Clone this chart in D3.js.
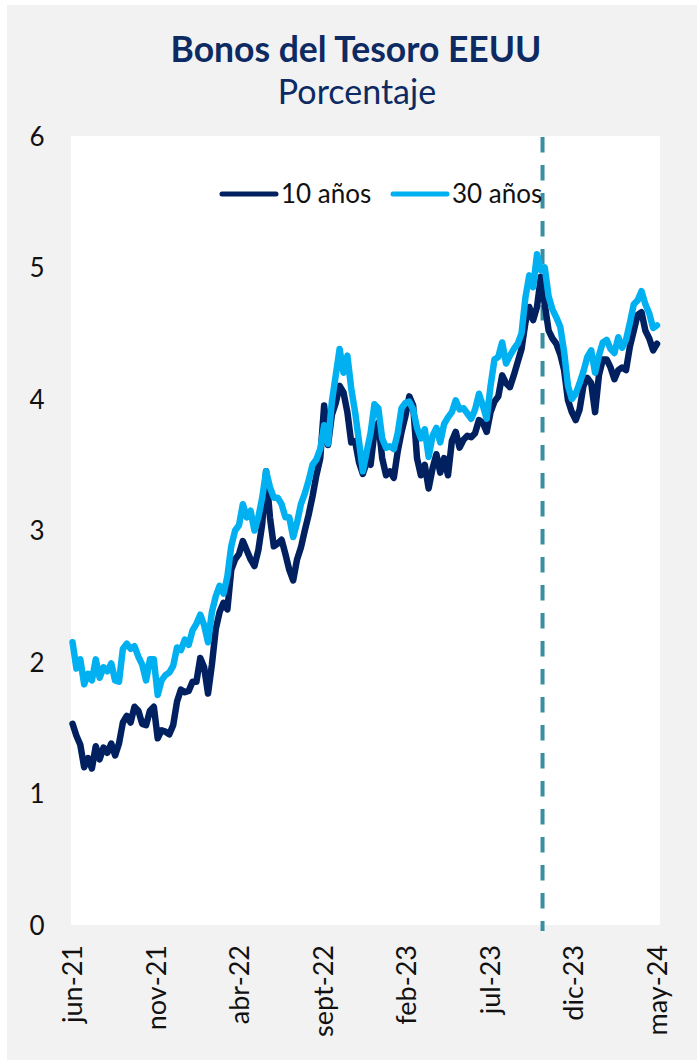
<!DOCTYPE html>
<html>
<head>
<meta charset="utf-8">
<script src="https://cdn.jsdelivr.net/npm/d3@7"></script>
<style>
  html, body { margin: 0; padding: 0; background: #ffffff; }
  svg { display: block; }
  text { font-family: Lato, "Open Sans", sans-serif; }
</style>
</head>
<body>
<svg id="chart" width="697" height="1060"></svg>
<script>
// ---------------- DATA ----------------
const title = "Bonos del Tesoro EEUU";
const subtitle = "Porcentaje";

const seriesNames = ["10 años", "30 años"];

const dates = [
  "2021-06-25","2021-07-02","2021-07-09","2021-07-16","2021-07-23","2021-07-30","2021-08-06","2021-08-13","2021-08-20","2021-08-27",
  "2021-09-03","2021-09-10","2021-09-17","2021-09-24","2021-10-01","2021-10-08","2021-10-15","2021-10-22","2021-10-29","2021-11-05",
  "2021-11-12","2021-11-19","2021-11-26","2021-12-03","2021-12-10","2021-12-17","2021-12-24","2021-12-31",
  "2022-01-07","2022-01-14","2022-01-21","2022-01-28","2022-02-04","2022-02-11","2022-02-18","2022-02-25","2022-03-04","2022-03-11",
  "2022-03-18","2022-03-25","2022-04-01","2022-04-08","2022-04-15","2022-04-22","2022-04-29","2022-05-06","2022-05-13","2022-05-20",
  "2022-05-27","2022-06-03","2022-06-10","2022-06-17","2022-06-24","2022-07-01","2022-07-08","2022-07-15","2022-07-22","2022-07-29",
  "2022-08-05","2022-08-12","2022-08-19","2022-08-26","2022-09-02","2022-09-09","2022-09-16","2022-09-23","2022-09-30","2022-10-07",
  "2022-10-14","2022-10-21","2022-10-28","2022-11-04","2022-11-11","2022-11-18","2022-11-25","2022-12-02","2022-12-09","2022-12-16",
  "2022-12-23","2022-12-30",
  "2023-01-06","2023-01-13","2023-01-20","2023-01-27","2023-02-03","2023-02-10","2023-02-17","2023-02-24","2023-03-03","2023-03-10",
  "2023-03-17","2023-03-24","2023-03-31","2023-04-07","2023-04-14","2023-04-21","2023-04-28","2023-05-05","2023-05-12","2023-05-19",
  "2023-05-26","2023-06-02","2023-06-09","2023-06-16","2023-06-23","2023-06-30","2023-07-07","2023-07-14","2023-07-21","2023-07-28",
  "2023-08-04","2023-08-11","2023-08-18","2023-08-25","2023-09-01","2023-09-08","2023-09-15","2023-09-22","2023-09-29","2023-10-06",
  "2023-10-13","2023-10-20","2023-10-27","2023-11-03","2023-11-10","2023-11-17","2023-11-24","2023-12-01","2023-12-08","2023-12-15",
  "2023-12-22","2023-12-29",
  "2024-01-05","2024-01-12","2024-01-19","2024-01-26","2024-02-02","2024-02-09","2024-02-16","2024-02-23","2024-03-01","2024-03-08",
  "2024-03-15","2024-03-22","2024-03-29","2024-04-05","2024-04-12","2024-04-19","2024-04-26","2024-05-03","2024-05-10","2024-05-17"
];

const yield10 = [
  1.53,1.44,1.37,1.20,1.27,1.19,1.36,1.26,1.35,1.31,
  1.38,1.29,1.38,1.54,1.59,1.54,1.66,1.63,1.53,1.52,
  1.63,1.66,1.42,1.48,1.47,1.45,1.52,1.70,1.79,1.77,
  1.78,1.85,1.85,2.03,1.96,1.76,1.98,2.25,
  2.38,2.45,2.40,2.70,2.78,2.82,2.92,2.85,2.78,2.73,
  2.85,3.05,3.45,3.10,2.88,2.90,2.93,2.82,2.70,2.62,
  2.78,2.87,3.00,3.12,3.26,3.42,3.55,3.95,3.65,3.88,
  3.97,4.10,4.05,3.90,3.67,3.68,3.52,3.43,3.52,3.50,
  3.75,3.82,3.55,3.42,3.45,3.40,3.60,3.75,3.87,4.02,
  3.95,3.55,3.42,3.50,3.32,3.47,3.58,3.44,3.55,3.42,
  3.68,3.75,3.63,3.69,3.72,3.71,3.74,3.84,3.82,3.75,
  3.90,3.98,4.02,4.18,4.12,4.09,4.18,4.28,4.38,4.58,
  4.70,4.60,4.70,4.93,4.72,4.52,4.46,4.42,4.34,4.22,
  3.99,3.90,3.84,3.92,4.10,4.16,4.12,3.90,4.18,4.30,
  4.30,4.24,4.15,4.22,4.24,4.22,4.40,4.52,4.64,4.66,
  4.52,4.46,4.37,4.42
];

const yield30 = [
  2.15,1.95,2.02,1.83,1.91,1.86,2.02,1.88,1.96,1.93,
  1.99,1.86,1.85,2.10,2.14,2.10,2.12,2.04,1.98,1.86,
  2.02,2.02,1.75,1.86,1.90,1.92,1.97,2.11,2.09,2.17,
  2.13,2.24,2.29,2.36,2.28,2.15,2.38,2.50,
  2.58,2.52,2.65,2.88,3.00,3.04,3.20,3.10,3.15,3.00,
  3.10,3.25,3.45,3.33,3.25,3.25,3.20,3.10,3.10,2.95,
  3.06,3.20,3.28,3.38,3.50,3.54,3.62,3.80,3.66,3.98,
  4.18,4.38,4.20,4.33,4.08,3.90,3.68,3.45,3.60,3.74,
  3.96,3.93,3.70,3.63,3.64,3.62,3.74,3.93,3.97,3.98,
  3.92,3.78,3.70,3.77,3.56,3.72,3.78,3.67,3.81,3.86,
  3.90,3.99,3.92,3.93,3.89,3.85,3.92,4.04,3.95,3.85,
  4.10,4.30,4.32,4.43,4.27,4.33,4.38,4.42,4.50,4.77,
  4.94,4.85,5.10,4.98,5.00,4.78,4.68,4.62,4.55,4.36,
  4.10,4.00,4.04,4.12,4.21,4.32,4.37,4.20,4.33,4.43,
  4.45,4.38,4.35,4.47,4.39,4.45,4.58,4.72,4.75,4.82,
  4.72,4.65,4.54,4.56
];

const xDomain = ["2021-06-24", "2024-05-17"];
const xTickDates = ["2021-06-24","2021-11-22","2022-04-22","2022-09-20","2023-02-18","2023-07-19","2023-12-17","2024-05-17"];
const xTickLabels = ["jun-21","nov-21","abr-22","sept-22","feb-23","jul-23","dic-23","may-24"];
const yTicks = [0, 1, 2, 3, 4, 5, 6];
const markerDate = "2023-10-23";

// ---------------- STYLE ----------------
const W = 697, H = 1060;
const plot = { left: 71, right: 660, top: 136, bottom: 925 };
const colors = { s10: "#002060", s30: "#00B0F0", marker: "#3A8EA2", title: "#0D2A63", panel: "#F2F2F2", text: "#111111" };

// ---------------- DRAW ----------------
const parse = d3.timeParse("%Y-%m-%d");
const svg = d3.select("#chart");

svg.append("rect").attr("x", 7).attr("y", 5).attr("width", W - 7).attr("height", H - 5).attr("fill", colors.panel);
svg.append("rect").attr("x", plot.left).attr("y", plot.top)
  .attr("width", plot.right - plot.left).attr("height", plot.bottom - plot.top).attr("fill", "#ffffff");

// Titles
svg.append("text").attr("x", 356).attr("y", 62).attr("text-anchor", "middle")
  .attr("font-size", 35.5).attr("font-weight", 700).attr("fill", colors.title).text(title);
svg.append("text").attr("x", 357).attr("y", 104).attr("text-anchor", "middle")
  .attr("font-size", 34).attr("fill", colors.title).text(subtitle);

const x = d3.scaleTime().domain(xDomain.map(parse)).range([72, 657]);
const y = d3.scaleLinear().domain([0, 6]).range([plot.bottom, plot.top]);

// Y axis
const yAxis = svg.append("g").attr("transform", `translate(${plot.left},0)`)
  .call(d3.axisLeft(y).tickValues(yTicks).tickSize(0).tickPadding(0).tickFormat(d3.format("d")));
yAxis.select(".domain").remove();
yAxis.selectAll("text").attr("x", -34).attr("text-anchor", "middle").attr("dy", "0.36em")
  .attr("font-size", 26).attr("fill", colors.text).style("font-family", "Lato, sans-serif");

// X axis
const xAxis = svg.append("g").attr("transform", `translate(0,${plot.bottom})`)
  .call(d3.axisBottom(x).tickValues(xTickDates.map(parse)).tickSize(0)
    .tickFormat((d, i) => xTickLabels[i]));
xAxis.select(".domain").remove();
xAxis.selectAll("text")
  .attr("font-size", 27).attr("fill", colors.text).style("font-family", "Lato, sans-serif")
  .attr("text-anchor", "end").attr("transform", "rotate(-90)")
  .attr("x", -20).attr("y", 0).attr("dy", "0.36em");

// Marker dashed line
svg.append("line")
  .attr("x1", x(parse(markerDate))).attr("x2", x(parse(markerDate)))
  .attr("y1", plot.top + 1).attr("y2", plot.bottom + 6)
  .attr("stroke", colors.marker).attr("stroke-width", 4).attr("stroke-dasharray", "15.5,12.5");

// Lines
const rows = dates.map((d, i) => ({ date: parse(d), v10: yield10[i], v30: yield30[i] }));
const line10 = d3.line().x(d => x(d.date)).y(d => y(d.v10));
const line30 = d3.line().x(d => x(d.date)).y(d => y(d.v30));
svg.append("path").datum(rows).attr("d", line10).attr("fill", "none")
  .attr("stroke", colors.s10).attr("stroke-width", 6.5).attr("stroke-linejoin", "round").attr("stroke-linecap", "round");
svg.append("path").datum(rows).attr("d", line30).attr("fill", "none")
  .attr("stroke", colors.s30).attr("stroke-width", 6.5).attr("stroke-linejoin", "round").attr("stroke-linecap", "round");

// Legend
const legendItems = [
  { name: seriesNames[0], color: colors.s10, x: 222 },
  { name: seriesNames[1], color: colors.s30, x: 393 }
];
const lg = svg.append("g");
legendItems.forEach(it => {
  lg.append("line").attr("x1", it.x).attr("x2", it.x + 54).attr("y1", 194).attr("y2", 194)
    .attr("stroke", it.color).attr("stroke-width", 5).attr("stroke-linecap", "round");
  lg.append("text").attr("x", it.x + 59).attr("y", 203).attr("font-size", 26)
    .attr("fill", colors.text).text(it.name);
});
</script>
</body>
</html>
